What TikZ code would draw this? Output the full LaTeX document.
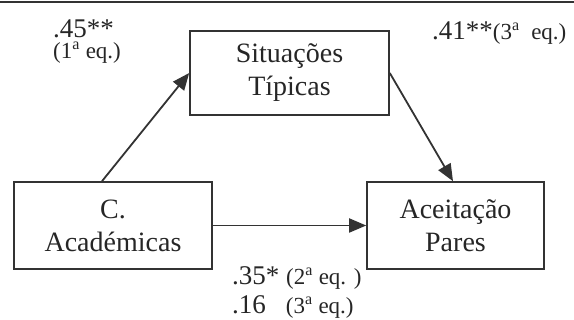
\documentclass[tikz,border=0pt]{standalone}
\usepackage{fontspec}
\setmainfont{Liberation Serif}
\usepackage{tikz}
\usetikzlibrary{arrows.meta, positioning}

\begin{document}
\begin{tikzpicture}[x=1pt, y=-1pt, >={Triangle[length=17pt, width=14pt]},
  box/.style={draw=black!80, line width=1.6pt, rectangle, align=center, inner sep=0pt,
    font=\fontsize{28}{33}\selectfont, text=black!85},
  lbl/.style={anchor=base west, inner sep=0pt, text=black!85, font=\fontsize{27}{30}\selectfont},
  link/.style={->, draw=black!80, line width=1.8pt}]
\newcommand{\eqsz}{\fontsize{23}{26}\selectfont}
\useasboundingbox (0,0) rectangle (574,320);
\draw[black!80, line width=1.8pt] (0,2) -- (574,2);

% the three boxes
\node (sit) [box, minimum width=199pt, minimum height=84pt] at (289.5,73) {Situações\\Típicas};
\node (acad) [box, minimum width=198pt, minimum height=87pt] at (113,225.5) {C.\\Académicas};
\node (acei) [box, minimum width=177pt, minimum height=87pt] at (455.5,225.5) {Aceitação\\Pares};

\draw[link] ([xshift=-11pt]acad.north) -- (sit.west);
\draw[link] (sit.east) -- ([xshift=-2.5pt]acei.north);
\draw[link] (acad.east) -- (acei.west);

% coefficients (base = last line)
\node (pA) [lbl, align=left] at (53,59) {.45**\\[-9pt]{\eqsz(1\textsuperscript{a} eq.)}};
\node (pB) [lbl] at (432,40) {.41**{\eqsz(3\textsuperscript{a}\ \ eq.)}};
\node (pC) [lbl, align=left] at (232,314) {.35* {\eqsz(2\textsuperscript{a} eq. )}\\[-1pt].16\hspace{20pt}{\eqsz(3\textsuperscript{a} eq.)}};
\end{tikzpicture}
\end{document}
